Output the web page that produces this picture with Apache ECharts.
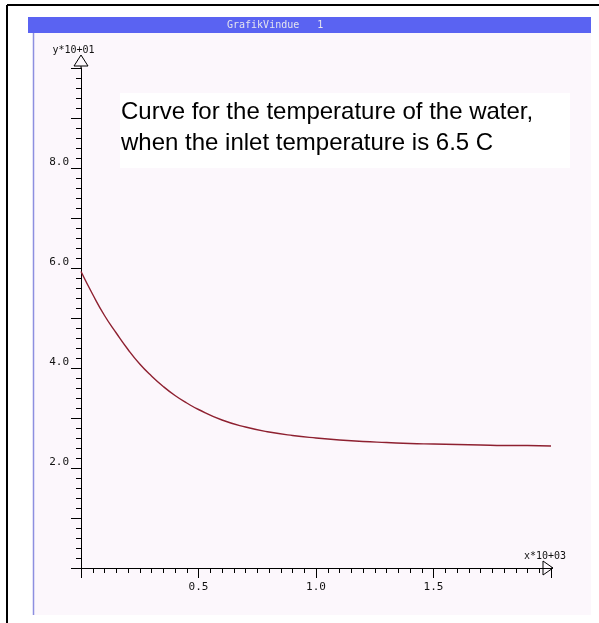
<!DOCTYPE html>
<html><head><meta charset="utf-8">
<script src="https://cdn.jsdelivr.net/npm/echarts@6/dist/echarts.min.js"></script>
<style>html,body{margin:0;padding:0;background:#fff}#c{width:599px;height:623px}</style>
</head><body><div id="c"></div>
<script>
// data (x in units of 10^3, y in units of 10^1)
const xValues = [0, 0.05, 0.10, 0.15, 0.20, 0.25, 0.30, 0.35, 0.40, 0.45, 0.50, 0.60, 0.70, 0.80, 0.90, 1.00, 1.10, 1.20, 1.30, 1.40, 1.50, 1.60, 1.70, 1.80, 1.90, 2.00];
const yValues = [5.93, 5.47, 5.05, 4.70, 4.37, 4.08, 3.84, 3.63, 3.45, 3.30, 3.17, 2.96, 2.82, 2.72, 2.65, 2.60, 2.56, 2.53, 2.51, 2.49, 2.48, 2.47, 2.46, 2.45, 2.45, 2.44];
const xTickLabels = ['0.5', '1.0', '1.5'];
const yTickLabels = ['2.0', '4.0', '6.0', '8.0'];
const xAxisName = 'x*10+03';
const yAxisName = 'y*10+01';
const windowTitle = 'GrafikVindue   1';
const noteLines = ['Curve for the temperature of the water,', 'when the inlet temperature is 6.5 C'];

const chart = echarts.init(document.getElementById('c'), null, {renderer: 'canvas'});
const mono = 'DejaVu Sans Mono';
const fmt = v => Number(v).toFixed(1);

chart.setOption({
  backgroundColor: '#ffffff',
  animation: false,
  grid: {left: 81, right: 48, top: 68, bottom: 55, containLabel: false, outerBoundsMode: 'none'},
  xAxis: {
    type: 'value', min: 0, max: 2, interval: 0.5,
    name: xAxisName, nameLocation: 'end', nameGap: -6,
    nameTextStyle: {fontFamily: mono, fontSize: 10, color: '#111', align: 'center', verticalAlign: 'bottom', padding: [0, 0, 7, 0]},
    axisLine: {show: true, onZero: false, lineStyle: {color: '#000', width: 1}},
    axisTick: {show: true, inside: false, length: 10, lineStyle: {color: '#000', width: 1}},
    minorTick: {show: true, splitNumber: 10, length: 5, lineStyle: {color: '#000', width: 1}},
    splitLine: {show: false}, minorSplitLine: {show: false},
    axisLabel: {show: true, margin: 14, fontFamily: mono, fontSize: 11, color: '#111',
      showMinLabel: false, showMaxLabel: false,
      formatter: v => xTickLabels.includes(fmt(v)) ? fmt(v) : ''}
  },
  yAxis: {
    type: 'value', min: 0, max: 10, interval: 1,
    name: yAxisName, nameLocation: 'end', nameGap: 13,
    nameTextStyle: {fontFamily: mono, fontSize: 10, color: '#111', align: 'center', padding: [0, 15, 0, 0]},
    axisLine: {show: true, onZero: false, lineStyle: {color: '#000', width: 1}},
    axisTick: {show: true, inside: false, length: 10, lineStyle: {color: '#000', width: 1}},
    minorTick: {show: true, splitNumber: 5, length: 5, lineStyle: {color: '#000', width: 1}},
    splitLine: {show: false}, minorSplitLine: {show: false},
    axisLabel: {show: true, margin: 12, fontFamily: mono, fontSize: 11, color: '#111', verticalAlign: 'bottom',
      formatter: v => yTickLabels.includes(fmt(v)) ? fmt(v) : ''}
  },
  series: [{
    type: 'line', showSymbol: false, smooth: true,
    data: xValues.map((x, i) => [x, yValues[i]]),
    lineStyle: {color: '#8e2030', width: 1.4},
    z: 3
  }]
});

const xe = chart.convertToPixel({gridIndex: 0}, [2, 0]);
const ye = chart.convertToPixel({gridIndex: 0}, [0, 10]);
const bg = '#fcf7fc';
const noteFont = '24px "Liberation Sans"';

chart.setOption({
  graphic: [
    {type: 'rect', z: -100, shape: {x: 33, y: 33, width: 558, height: 582}, style: {fill: bg}},
    {type: 'rect', z: -99, shape: {x: 28, y: 17, width: 563, height: 16}, style: {fill: '#5a63f2'}},
    {type: 'text', z: -98, x: 227, y: 25, style: {text: windowTitle, font: '10px ' + mono, fill: '#e4e4ee', verticalAlign: 'middle'}},
    {type: 'line', z: -98, shape: {x1: 33.5, y1: 33, x2: 33.5, y2: 615}, style: {stroke: '#8d8fe0', lineWidth: 1.5}},
    {type: 'line', z: -98, shape: {x1: 7, y1: 5, x2: 599, y2: 5}, style: {stroke: '#000', lineWidth: 2}},
    {type: 'line', z: -98, shape: {x1: 7, y1: 5, x2: 7, y2: 623}, style: {stroke: '#000', lineWidth: 2}},
    {type: 'rect', z: -97, shape: {x: 120, y: 93, width: 450, height: 75}, style: {fill: '#ffffff'}},
    {type: 'text', z: -96, x: 121, y: 112, style: {text: noteLines[0], font: noteFont, fill: '#000', verticalAlign: 'middle'}},
    {type: 'text', z: -96, x: 121, y: 143, style: {text: noteLines[1], font: noteFont, fill: '#000', verticalAlign: 'middle'}},
    // axis arrows
    {type: 'line', z: 50, shape: {x1: ye[0], y1: ye[1], x2: ye[0], y2: ye[1] - 12}, style: {stroke: '#000', lineWidth: 1}},
    {type: 'polygon', z: 51, shape: {points: [[ye[0], ye[1] - 13], [ye[0] - 7, ye[1] - 2], [ye[0] + 7, ye[1] - 2]]}, style: {fill: bg, stroke: '#000', lineWidth: 1}},
    {type: 'line', z: 50, shape: {x1: xe[0], y1: xe[1], x2: xe[0] + 2, y2: xe[1]}, style: {stroke: '#000', lineWidth: 1}},
    {type: 'polygon', z: 51, shape: {points: [[xe[0] + 2, xe[1]], [xe[0] - 8, xe[1] - 7], [xe[0] - 8, xe[1] + 7]]}, style: {fill: 'none', stroke: '#000', lineWidth: 1}}
  ]
});
</script></body></html>
